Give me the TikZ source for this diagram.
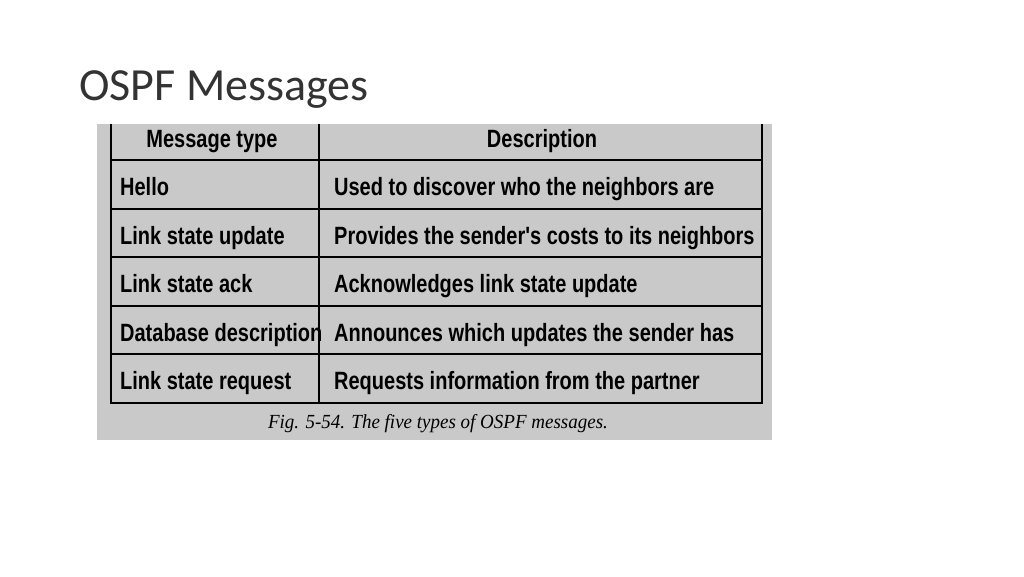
\documentclass[tikz,border=0pt]{standalone}
\usepackage{fontspec}
\setmainfont{Carlito}
\newfontfamily\tabfont{Liberation Sans}
\newfontfamily\capfont{Liberation Serif}
\usetikzlibrary{positioning}

\begin{document}
\begin{tikzpicture}[
    x=1pt, y=-1pt,
    cell/.style={
        anchor=base west,
        inner sep=0pt,
        xscale=0.8,
        font=\tabfont\fontsize{25}{25}\selectfont\bfseries
    },
    head/.style={
        cell,
        anchor=base
    }
]
\useasboundingbox (0,0) rectangle (1024,576);

\node[anchor=base west, inner sep=0pt, font=\fontsize{46}{46}\selectfont\color{black!80}] (title) at (79,100) {OSPF Messages};

% grey figure
\fill[black!21] (97,124) rectangle (772,440);
\draw[line width=1.2pt] (111,124) -- (111,403) -- (762,403) -- (762,124);
\draw[line width=1.2pt] (319,124) -- (319,403);
\foreach \y in {160,209,257,306,354} {
    \draw[line width=1.2pt] (111,\y) -- (762,\y);
}

\node[head] (typehead) at (212,147) {Message type};
\node[head] (deschead) at (542,147) {Description};

\node[cell] (hello) at (120,195) {Hello};
\node[cell] (lsu) at (120,244) {Link state update};
\node[cell] (lsack) at (120,292) {Link state ack};
\node[cell] (dbd) at (120,341) {Database description};
\node[cell] (lsr) at (120,389) {Link state request};

\node[cell] (hellodesc) at (334,195) {Used to discover who the neighbors are};
\node[cell] (lsudesc) at (334,244) {Provides the sender's costs to its neighbors};
\node[cell] (lsackdesc) at (334,292) {Acknowledges link state update};
\node[cell] (dbddesc) at (334,341) {Announces which updates the sender has};
\node[cell] (lsrdesc) at (334,389) {Requests information from the partner};

\node[font=\capfont\itshape\fontsize{20}{20}\selectfont, xscale=0.95, inner sep=0pt] (caption) at (438,424) {Fig. 5-54. The five types of OSPF messages.};
\end{tikzpicture}
\end{document}
